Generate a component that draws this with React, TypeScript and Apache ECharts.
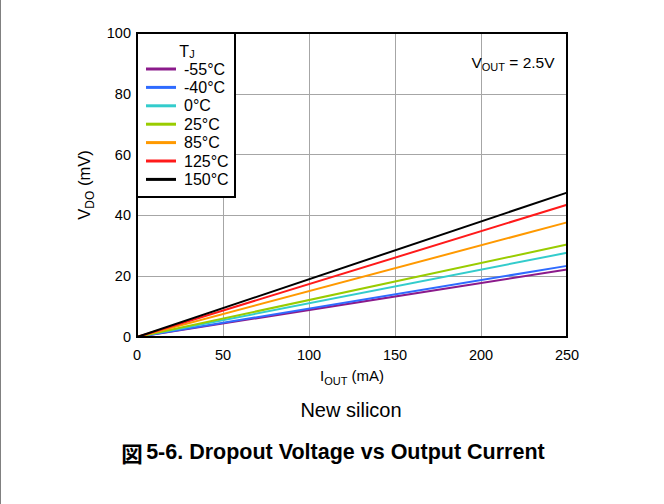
import React, { useEffect, useRef } from "react";
import * as echarts from "echarts";

const currents = [0, 250];
const temps = ["-55°C", "-40°C", "0°C", "25°C", "85°C", "125°C", "150°C"];
const colors = ["#8B1A8B", "#2F6BFF", "#33CCCC", "#99CC00", "#FF9900", "#FF1A1A", "#000000"];
const vdoAt0 = [0, 0, 0, 0, 0, 0, 0];
const vdoAt250 = [22.2, 23.4, 27.7, 30.4, 37.7, 43.5, 47.5];
const xTicks = [0, 50, 100, 150, 200, 250];
const yTicks = [0, 20, 40, 60, 80, 100];

const FONT = "Liberation Sans, Arial, sans-serif";

export default function App() {
  const ref = useRef<HTMLDivElement>(null);
  useEffect(() => {
    if (!ref.current) return;
    const chart = echarts.init(ref.current, null, { renderer: "svg" });
    const series = temps.map((t, i) => ({
      name: t,
      type: "line",
      symbol: "none",
      data: [
        [currents[0], vdoAt0[i]],
        [currents[1], vdoAt250[i]],
      ],
      lineStyle: { color: colors[i], width: 2 },
      itemStyle: { color: colors[i] },
      z: 2,
    }));
    const sub = (main: number, s: number, lh: number) => ({
      a: { fontSize: main, fontFamily: FONT, color: "#000", lineHeight: lh, verticalAlign: "middle" },
      s: { fontSize: s, fontFamily: FONT, color: "#000", lineHeight: lh, verticalAlign: "bottom" },
    });
    chart.setOption({
      animation: false,
      backgroundColor: "#fff",
      textStyle: { fontFamily: FONT },
      grid: {
        left: 137,
        top: 33,
        width: 430,
        height: 304,
        show: true,
        borderColor: "#000",
        borderWidth: 2,
        backgroundColor: "transparent",
        z: 5,
      },
      xAxis: {
        type: "value",
        min: xTicks[0],
        max: xTicks[xTicks.length - 1],
        interval: 50,
        axisLine: { show: true, lineStyle: { color: "#000", width: 2 } },
        axisTick: { show: false },
        axisLabel: { fontSize: 14.5, color: "#000", fontFamily: FONT, margin: 10 },
        splitLine: { show: true, lineStyle: { color: "#A6A6A6", width: 1 } },
        name: "{a|I}{s|OUT}{a| (mA)}",
        nameLocation: "middle",
        nameGap: 28,
        nameTextStyle: { rich: sub(15, 11, 21) },
      },
      yAxis: {
        type: "value",
        min: yTicks[0],
        max: yTicks[yTicks.length - 1],
        interval: 20,
        axisLine: { show: true, lineStyle: { color: "#000", width: 2 } },
        axisTick: { show: false },
        axisLabel: { fontSize: 14.5, color: "#000", fontFamily: FONT, margin: 6 },
        splitLine: { show: true, lineStyle: { color: "#A6A6A6", width: 1 } },
        name: "{a|V}{s|DO}{a| (mV)}",
        nameLocation: "middle",
        nameGap: 38,
        nameRotate: 90,
        nameTextStyle: { rich: sub(16.5, 12, 23) },
      },
      legend: {
        show: true,
        orient: "vertical",
        left: 146,
        top: 61,
        itemWidth: 30,
        itemHeight: 3,
        itemGap: 2.4,
        icon: "rect",
        padding: 0,
        data: temps,
        textStyle: {
          fontSize: 16,
          color: "#000",
          fontFamily: FONT,
          lineHeight: 16,
          padding: [0, 0, 0, 3],
        },
        z: 10,
      },
      graphic: [
        {
          type: "line",
          shape: { x1: 0.5, y1: 0, x2: 0.5, y2: 504 },
          style: { stroke: "#808080", lineWidth: 1 },
        },
        {
          type: "rect",
          shape: { x: 137, y: 33, width: 98, height: 164 },
          style: { fill: "#fff", stroke: "#000", lineWidth: 2 },
          z: 8,
        },
        {
          type: "text",
          x: 187,
          y: 51,
          z: 9,
          style: {
            text: "{a|T}{s|J}",
            rich: sub(16, 11, 17),
            align: "center",
            verticalAlign: "middle",
          },
        },
        {
          type: "text",
          x: 513,
          y: 62,
          z: 9,
          style: {
            text: "{a|V}{s|OUT}{a| = 2.5V}",
            rich: sub(15.5, 11, 21),
            align: "center",
            verticalAlign: "middle",
          },
        },
        {
          type: "text",
          x: 351,
          y: 410,
          style: {
            text: "New silicon",
            font: `20px ${FONT}`,
            fill: "#000",
            align: "center",
            verticalAlign: "middle",
          },
        },
        {
          type: "text",
          x: 333,
          y: 452,
          style: {
            text: "{c|図} {b|5-6. Dropout Voltage vs Output Current}",
            rich: {
              c: { fontSize: 21.5, fontWeight: "bold", fontFamily: "Noto Sans CJK JP", color: "#000" },
              b: { fontSize: 21.5, fontWeight: "bold", fontFamily: FONT, color: "#000" },
            },
            align: "center",
            verticalAlign: "middle",
          },
        },
      ],
      series,
    });
    return () => chart.dispose();
  }, []);
  return (
    <div
      ref={ref}
      style={{ position: "absolute", left: 0, top: 0, width: 664, height: 504 }}
    />
  );
}
